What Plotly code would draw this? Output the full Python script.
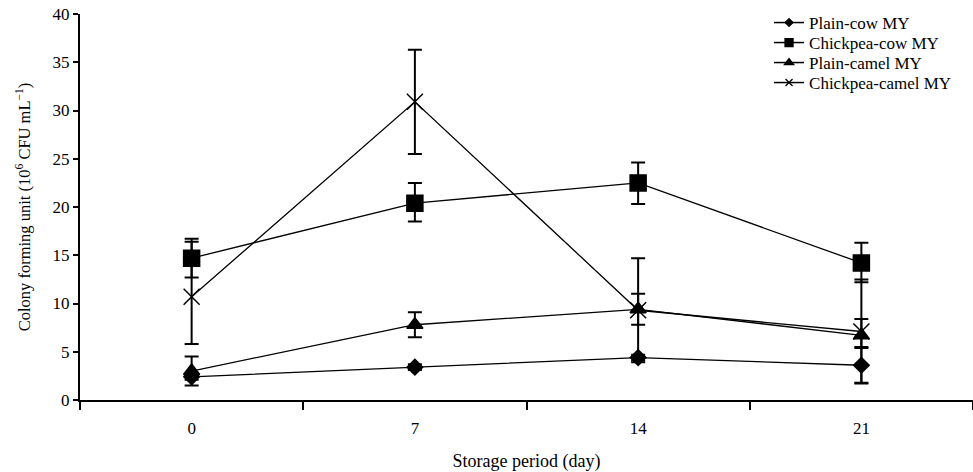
import plotly.graph_objects as go

days = ["0", "7", "14", "21"]

plain_cow = [2.4, 3.4, 4.4, 3.6]
plain_cow_plus = [0.3, 0.3, 0.3, 1.8]
plain_cow_minus = [0.3, 0.3, 0.3, 1.8]

chickpea_cow = [14.7, 20.4, 22.5, 14.2]
chickpea_cow_plus = [2.0, 2.1, 2.1, 2.1]
chickpea_cow_minus = [2.0, 1.9, 2.2, 2.0]

plain_camel = [3.0, 7.8, 9.4, 6.7]
plain_camel_plus = [1.5, 1.3, 1.6, 1.7]
plain_camel_minus = [1.5, 1.3, 1.6, 1.2]

chickpea_camel = [10.7, 30.9, 9.3, 7.1]
chickpea_camel_plus = [5.7, 5.4, 5.4, 5.4]
chickpea_camel_minus = [4.9, 5.4, 5.4, 5.4]

series = [
    ("Plain-cow MY", plain_cow, plain_cow_plus, plain_cow_minus, "diamond", 12, 6),
    ("Chickpea-cow MY", chickpea_cow, chickpea_cow_plus, chickpea_cow_minus, "square", 16, 8),
    ("Plain-camel MY", plain_camel, plain_camel_plus, plain_camel_minus, "triangle-up", 14, 8),
    ("Chickpea-camel MY", chickpea_camel, chickpea_camel_plus, chickpea_camel_minus, "x-thin-open", 16, 7),
]

FONT = "Liberation Serif, Times New Roman, serif"

W, H = 973, 472
ML, MR, MT, MB = 80, 0, 14, 72
PLOT_H = H - MT - MB

fig = go.Figure()
for name, vals, plus, minus, sym, size, lsize in series:
    fig.add_trace(go.Scatter(
        x=days, y=vals, name=name, mode="lines+markers", showlegend=False,
        line=dict(color="black", width=1.3),
        marker=dict(symbol=sym, size=size, color="black",
                    line=dict(color="black", width=1.5)),
        error_y=dict(type="data", symmetric=False, array=plus, arrayminus=minus,
                     color="black", thickness=2, width=7),
    ))

# legend entries (smaller markers, as in the reference legend), one legend per row
legend_names = ["legend", "legend2", "legend3", "legend4"]
row_centers = [23, 43, 63, 83]  # pixels from top
legend_layouts = {}
for i, (name, vals, plus, minus, sym, size, lsize) in enumerate(series):
    fig.add_trace(go.Scatter(
        x=[None], y=[None], name=name, mode="lines+markers", showlegend=True,
        legend=legend_names[i],
        line=dict(color="black", width=1.5),
        marker=dict(symbol=sym, size=lsize, color="black",
                    line=dict(color="black", width=1.3)),
    ))
    legend_layouts[legend_names[i]] = dict(
        x=0.7716, y=1 - (row_centers[i] - MT) / PLOT_H,
        xanchor="left", yanchor="middle",
        bgcolor="rgba(0,0,0,0)", font=dict(size=17, family=FONT),
        tracegroupgap=0, itemwidth=30,
    )

fig.update_layout(
    width=W, height=H,
    margin=dict(l=ML, r=MR, t=MT, b=MB, autoexpand=False),
    paper_bgcolor="white", plot_bgcolor="white",
    font=dict(family=FONT, size=17, color="black"),
    showlegend=True,
    **legend_layouts,
)
fig.update_xaxes(
    type="category", range=[-0.5, 3.5], automargin=False,
    showline=True, linecolor="black", linewidth=2,
    ticks="outside", tickson="boundaries", ticklen=8, tickwidth=2, tickcolor="black",
    ticklabelstandoff=12, ticklabeloverflow="allow",
    showgrid=False, zeroline=False,
    title=dict(text="Storage period (day)", font=dict(size=18, family=FONT), standoff=33),
    tickfont=dict(size=17, family=FONT),
)
fig.update_yaxes(
    range=[0, 40], dtick=5, automargin=False,
    showline=True, linecolor="black", linewidth=2,
    ticks="outside", ticklen=5, tickwidth=2, tickcolor="black",
    ticklabeloverflow="allow",
    showgrid=False, zeroline=False,
    title=dict(text="Colony forming unit (10<sup>6</sup> CFU mL<sup>\u22121</sup>)",
               font=dict(size=16.5, family=FONT), standoff=18),
    tickfont=dict(size=17, family=FONT),
)

fig.write_html("out.html", config={"displayModeBar": False},
               post_script="document.body.style.margin='0';")
